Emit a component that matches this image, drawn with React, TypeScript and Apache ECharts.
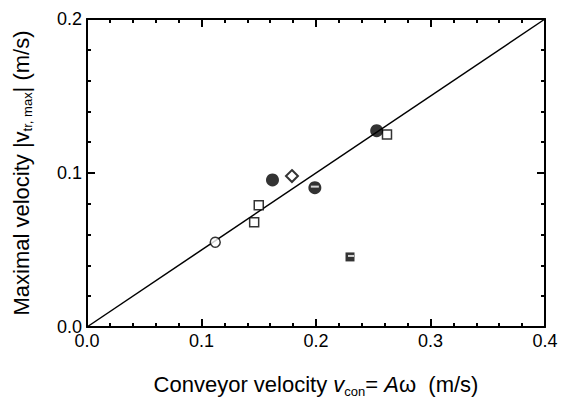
import React, { useEffect, useRef } from "react";
import * as echarts from "echarts";

const xTicks = [0, 0.1, 0.2, 0.3, 0.4];
const yTicks = [0, 0.1, 0.2];
const openCircle: number[][] = [[0.112, 0.055]];
const openSquare: number[][] = [[0.146, 0.068], [0.150, 0.079], [0.262, 0.125]];
const filledCircle: number[][] = [[0.162, 0.0955], [0.253, 0.1275]];
const diamond: number[][] = [[0.179, 0.098]];
const stripedCircle: number[][] = [[0.199, 0.0905]];
const stripedSquare: number[][] = [[0.2297, 0.0455]];
const fitLine: number[][] = [[0, 0], [0.4, 0.2]];

export default function App() {
  const ref = useRef<HTMLDivElement>(null);
  useEffect(() => {
    const chart = echarts.init(ref.current!, null, { renderer: "svg" });
    const font = "'Liberation Sans', Arial, sans-serif";
    const axisCommon = {
      axisLine: { show: true, onZero: false, lineStyle: { color: "#000", width: 2 } },
      axisTick: { show: true, inside: true, length: 8, lineStyle: { color: "#000", width: 2 } },
      minorTick: { show: true, splitNumber: 5, length: 4, lineStyle: { color: "#000", width: 2 } },
      splitLine: { show: false },
    };
    chart.setOption({
      animation: false,
      backgroundColor: "#fff",
      grid: { left: 87, right: 22, top: 19, bottom: 72 },
      xAxis: [
        {
          type: "value",
          min: xTicks[0],
          max: xTicks[xTicks.length - 1],
          interval: 0.1,
          ...axisCommon,
          axisLabel: {
            color: "#000",
            fontFamily: font,
            fontSize: 18,
            margin: 5,
            formatter: (v: number) => v.toFixed(1),
          },
          name: "{n|Conveyor velocity }{i|v}{s|con}{n|= }{i|A}{n|ω  (m/s)}",
          nameLocation: "middle",
          nameGap: 44,
          nameTextStyle: {
            rich: {
              n: { fontFamily: font, fontSize: 22, color: "#000" },
              i: { fontFamily: font, fontSize: 22, color: "#000", fontStyle: "italic" },
              s: { fontFamily: font, fontSize: 13, color: "#000", verticalAlign: "bottom", padding: [14, 0, 0, 0] },
            },
          },
        },
        {
          type: "value",
          position: "top",
          min: xTicks[0],
          max: xTicks[xTicks.length - 1],
          interval: 0.1,
          ...axisCommon,
          axisLabel: { show: false },
        },
      ],
      yAxis: [
        {
          type: "value",
          min: yTicks[0],
          max: yTicks[yTicks.length - 1],
          interval: 0.1,
          ...axisCommon,
          axisLabel: {
            color: "#000",
            fontFamily: font,
            fontSize: 18,
            margin: 5,
            formatter: (v: number) => v.toFixed(1),
          },
          name: "{n|Maximal velocity |}{i|v}{s|tr, max}{n|| (m/s)}",
          nameLocation: "middle",
          nameGap: 53,
          nameTextStyle: {
            rich: {
              n: { fontFamily: font, fontSize: 22, color: "#000" },
              i: { fontFamily: font, fontSize: 22, color: "#000" },
              s: { fontFamily: font, fontSize: 13, color: "#000", verticalAlign: "bottom", padding: [12, 0, 0, 0] },
            },
          },
        },
        {
          type: "value",
          position: "right",
          min: yTicks[0],
          max: yTicks[yTicks.length - 1],
          interval: 0.1,
          ...axisCommon,
          axisLabel: { show: false },
        },
      ],
      series: [
        {
          type: "line",
          data: fitLine,
          symbol: "none",
          lineStyle: { color: "#000", width: 1.5 },
          z: 1,
        },
        {
          type: "scatter",
          data: openCircle,
          symbol: "circle",
          symbolSize: 10,
          itemStyle: { color: "#fff", borderColor: "#000", borderWidth: 1.5 },
          z: 3,
        },
        {
          type: "scatter",
          data: openSquare,
          symbol: "rect",
          symbolSize: 9,
          itemStyle: { color: "#fff", borderColor: "#000", borderWidth: 1.5 },
          z: 3,
        },
        {
          type: "scatter",
          data: filledCircle,
          symbol: "circle",
          symbolSize: 13,
          itemStyle: { color: "#000" },
          z: 4,
        },
        {
          type: "scatter",
          data: diamond,
          symbol: "diamond",
          symbolSize: 12,
          itemStyle: { color: "#fff", borderColor: "#000", borderWidth: 2 },
          z: 3,
        },
        {
          type: "scatter",
          data: stripedCircle,
          symbol: "circle",
          symbolSize: 13,
          itemStyle: { color: "#000" },
          z: 4,
        },
        {
          type: "scatter",
          data: stripedCircle,
          symbol: "rect",
          symbolSize: [8, 2],
          symbolOffset: [0, -1],
          itemStyle: { color: "#fff" },
          z: 5,
        },
        {
          type: "scatter",
          data: stripedSquare,
          symbol: "rect",
          symbolSize: 9,
          itemStyle: { color: "#000" },
          z: 4,
        },
        {
          type: "scatter",
          data: stripedSquare,
          symbol: "rect",
          symbolSize: [6, 2],
          symbolOffset: [1, -1],
          itemStyle: { color: "#fff" },
          z: 5,
        },
      ],
    });
    return () => chart.dispose();
  }, []);
  return <div ref={ref} style={{ width: 567, height: 403, position: "absolute", left: 0, top: 0 }} />;
}
